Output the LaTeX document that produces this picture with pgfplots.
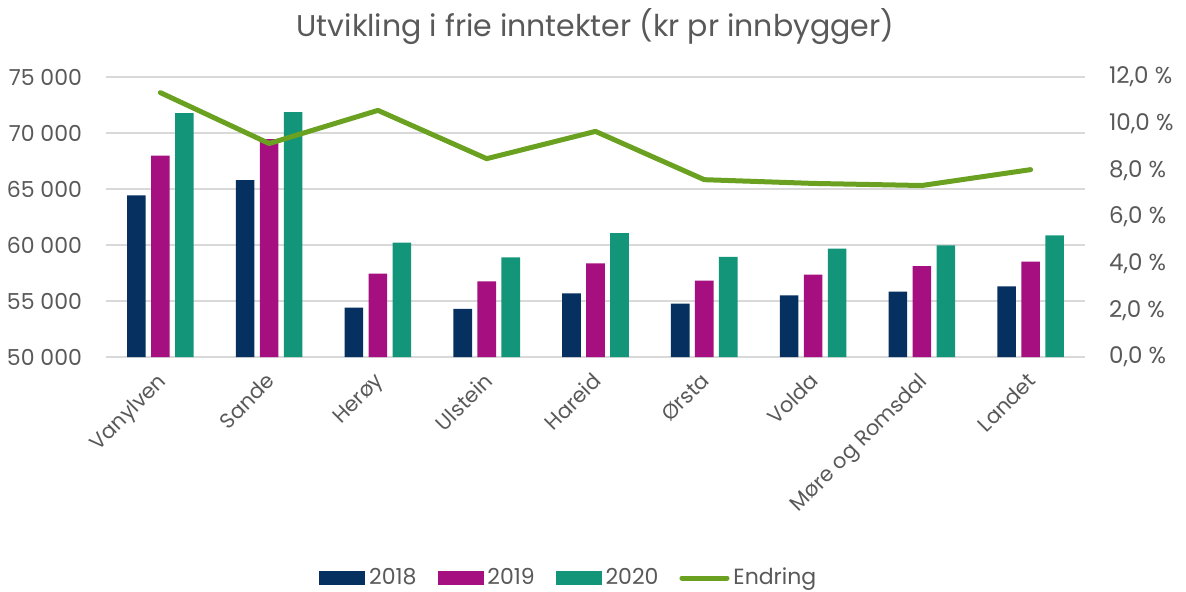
\documentclass[border=0pt]{standalone}
\usepackage{pgfplots}
\pgfplotsset{compat=1.18}
\usetikzlibrary{calc}
\usepackage{fontspec}
\setmainfont{Poppins}
\definecolor{cA}{HTML}{06305F}
\definecolor{cB}{HTML}{A50F80}
\definecolor{cC}{HTML}{13957A}
\definecolor{cLine}{HTML}{6AA121}
\definecolor{txt}{HTML}{595959}
\definecolor{gridc}{HTML}{D9D9D9}

\begin{document}
\begin{tikzpicture}
\pgfplotsset{
  base/.style={
    scale only axis, width=489.5pt, height=140pt,
    xmin=-0.5, xmax=8.5,
    major tick length=0pt,
    tick label style={font=\fontsize{11.5}{12}\selectfont, text=txt},
  }
}
\begin{axis}[base,
  ymin=50000, ymax=75000,
  ybar=2.7pt, bar width=9.3pt,
  axis x line*=bottom, axis y line*=left,
  y axis line style={draw=none},
  x axis line style={gridc, line width=0.75pt},
  xtick={0,...,8},
  xticklabels={Vanylven,Sande,Herøy,Ulstein,Hareid,Ørsta,Volda,Møre og Romsdal,Landet},
  x tick label style={font=\fontsize{10.5}{11}\selectfont, rotate=45, anchor=north east, xshift=-3.1pt, yshift=-0.1pt},
  scaled y ticks=false,
  ytick={50000,55000,...,75000},
  yticklabels={50 000,55 000,60 000,65 000,70 000,75 000},
  y tick label style={font=\fontsize{11}{12}\selectfont, xshift=-8.5pt},
  ymajorgrids, grid style={gridc, line width=0.75pt},
  title={Utvikling i frie inntekter (kr pr innbygger)},
  title style={font=\fontsize{15}{16}\selectfont, text=txt, at={(0.5,1)}, anchor=center, yshift=19pt},
]
\addplot[fill=cA, draw=none] coordinates {(0,64430) (1,65800) (2,54410) (3,54290) (4,55690) (5,54770) (6,55510) (7,55840) (8,56310)};
\addplot[fill=cB, draw=none] coordinates {(0,67980) (1,69450) (2,57440) (3,56750) (4,58370) (5,56820) (6,57350) (7,58110) (8,58520)};
\addplot[fill=cC, draw=none] coordinates {(0,71780) (1,71870) (2,60210) (3,58900) (4,61070) (5,58930) (6,59680) (7,59970) (8,60860)};
\end{axis}
\begin{axis}[base,
  ymin=0, ymax=12,
  axis x line=none, axis y line*=right,
  y axis line style={draw=none},
  ytick={0,2,...,12},
  yticklabels={{0,0 \%},{2,0 \%},{4,0 \%},{6,0 \%},{8,0 \%},{10,0 \%},{12,0 \%}},
  y tick label style={xshift=8.5pt},
  legend columns=4,
  legend style={draw=none, font=\fontsize{11}{12}\selectfont, text=txt,
    at={(0,0)}, anchor=west, xshift=103.5pt, yshift=-110.5pt,
    /tikz/every even column/.append style={column sep=8.5pt}},
]
\addlegendimage{legend image code/.code={\fill[cA] (0pt,-3.25pt) rectangle (22.5pt,3.25pt);}}
\addlegendentry{2018}
\addlegendimage{legend image code/.code={\fill[cB] (0pt,-3.25pt) rectangle (22.5pt,3.25pt);}}
\addlegendentry{2019}
\addlegendimage{legend image code/.code={\fill[cC] (0pt,-3.25pt) rectangle (22.5pt,3.25pt);}}
\addlegendentry{2020}
\addlegendimage{legend image code/.code={\draw[cLine, line width=2.5pt, line cap=round] (1pt,0pt) -- (23.5pt,0pt);}}
\addlegendentry{Endring}
\addplot[cLine, line width=2.5pt, line cap=round, line join=round, mark=none, forget plot] coordinates {
  (0,11.33) (1,9.15) (2,10.57) (3,8.50) (4,9.67) (5,7.60) (6,7.44) (7,7.35) (8,8.03)};
\end{axis}
\pgfresetboundingbox
\path[use as bounding box] ($(current axis.south west)+(-53pt,-117pt)$) rectangle ($(current axis.south west)+(540pt,178.5pt)$);
\end{tikzpicture}
\end{document}
